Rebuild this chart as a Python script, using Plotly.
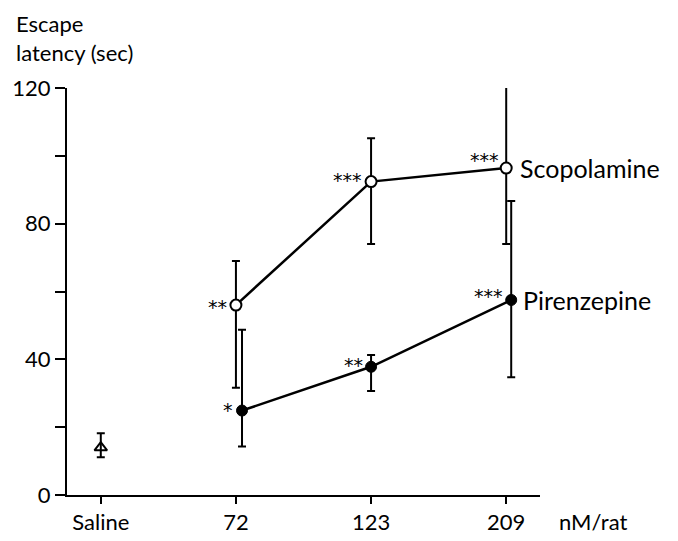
import plotly.graph_objects as go

# ---- data ----
categories = ["Saline", "72", "123", "209"]
y_tickvals = [0, 20, 40, 60, 80, 100, 120]
y_ticktext = ["0", "", "40", "", "80", "", "120"]

saline_mean = [14.0]
saline_upper = [18.2]
saline_lower = [11.1]

scop_mean = [56.0, 92.4, 96.4]
scop_upper = [69.0, 105.2, 121.0]
scop_lower = [31.6, 74.0, 74.0]
scop_stars = ["**", "***", "***"]

pir_mean = [24.9, 37.8, 57.5]
pir_upper = [48.7, 41.3, 86.7]
pir_lower = [14.3, 30.7, 34.7]
pir_stars = ["*", "**", "***"]

# ---- layout helpers ----
dose_idx = [1, 2, 3]
pir_shift = [0.045, 0.0, 0.037]
FONT = "Lato"
STAR_FONT = "DejaVu Sans"
BLACK = "#000000"

scop_x = dose_idx
pir_x = [i + s for i, s in zip(dose_idx, pir_shift)]

def err(mean, up, lo):
    return dict(type="data", symmetric=False,
                array=[u - m for u, m in zip(up, mean)],
                arrayminus=[m - l for m, l in zip(mean, lo)],
                color=BLACK, thickness=2, width=4)

fig = go.Figure()

fig.add_trace(go.Scatter(
    x=[0], y=saline_mean, mode="markers",
    marker=dict(symbol="triangle-up-open", size=11, color=BLACK, line=dict(width=2)),
    error_y=err(saline_mean, saline_upper, saline_lower), showlegend=False))

fig.add_trace(go.Scatter(
    x=scop_x, y=scop_mean, mode="lines+markers",
    line=dict(color=BLACK, width=2.5),
    marker=dict(symbol="circle", size=11, color="white", line=dict(color=BLACK, width=2)),
    error_y=err(scop_mean, scop_upper, scop_lower), showlegend=False))

fig.add_trace(go.Scatter(
    x=pir_x, y=pir_mean, mode="lines+markers",
    line=dict(color=BLACK, width=2.5),
    marker=dict(symbol="circle", size=11, color=BLACK, line=dict(color=BLACK, width=1)),
    error_y=err(pir_mean, pir_upper, pir_lower), showlegend=False))

ann = []
# significance stars
star_offsets_scop = [(-7, -2), (-7, 2), (-5, 8)]
star_offsets_pir = [(-7, 1), (-6, 2), (-6, 4)]
for x, y, s, (dx, dy) in zip(scop_x, scop_mean, scop_stars, star_offsets_scop):
    ann.append(dict(x=x, y=y, xref="x", yref="y", text=s, showarrow=False,
                    xanchor="right", yanchor="middle", xshift=dx, yshift=dy,
                    font=dict(family=STAR_FONT, size=19, color=BLACK)))
for x, y, s, (dx, dy) in zip(pir_x, pir_mean, pir_stars, star_offsets_pir):
    ann.append(dict(x=x, y=y, xref="x", yref="y", text=s, showarrow=False,
                    xanchor="right", yanchor="middle", xshift=dx, yshift=dy,
                    font=dict(family=STAR_FONT, size=19, color=BLACK)))
# series labels
ann.append(dict(x=scop_x[-1], y=scop_mean[-1], xref="x", yref="y", text="Scopolamine",
                showarrow=False, xanchor="left", yanchor="middle", xshift=12,
                font=dict(family=FONT, size=25, color=BLACK)))
ann.append(dict(x=pir_x[-1], y=pir_mean[-1], xref="x", yref="y", text="Pirenzepine",
                showarrow=False, xanchor="left", yanchor="middle", xshift=10,
                font=dict(family=FONT, size=25, color=BLACK)))
# axis titles
ann.append(dict(x=-0.113, y=1.0, xref="paper", yref="paper",
                text="Escape<br>latency (sec)", showarrow=False, align="left",
                xanchor="left", yanchor="bottom", yshift=20,
                font=dict(family=FONT, size=22, color=BLACK)))
ann.append(dict(x=1.035, y=0, xref="paper", yref="paper", text="nM/rat",
                showarrow=False, xanchor="left", yanchor="top", yshift=-11,
                font=dict(family=FONT, size=22, color=BLACK)))
fig.update_layout(annotations=ann)

fig.update_layout(
    width=678, height=541,
    margin=dict(l=67, r=138, t=88, b=46, autoexpand=False),
    paper_bgcolor="white", plot_bgcolor="white",
    font=dict(family=FONT, size=22, color=BLACK),
    xaxis=dict(range=[-0.25, 3.25], tickvals=[0, 1, 2, 3], ticktext=categories,
               showline=True, linecolor=BLACK, linewidth=2, ticks="outside",
               ticklen=7, tickwidth=2, tickcolor=BLACK, showgrid=False,
               zeroline=False, automargin=False, tickfont=dict(family=FONT, size=22)),
    yaxis=dict(range=[0, 120], tickvals=y_tickvals, ticktext=y_ticktext,
               showline=True, linecolor=BLACK, linewidth=2, ticks="outside",
               ticklen=10, tickwidth=2, tickcolor=BLACK, showgrid=False,
               zeroline=False, automargin=False, tickfont=dict(family=FONT, size=22)),
)

fig.write_html("out.html")
